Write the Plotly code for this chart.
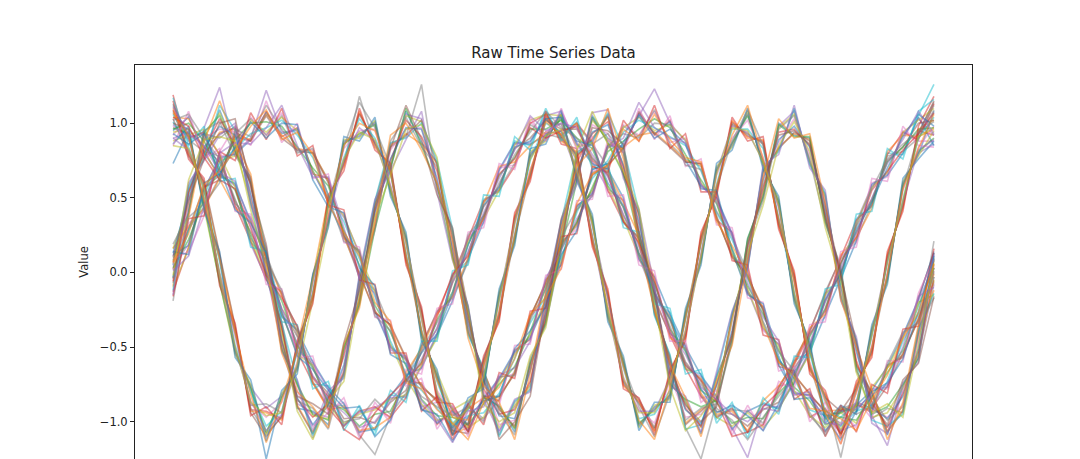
import plotly.graph_objects as go

# values, one list per line, 50 samples each
sin_fast = [
    [.05,.58,.79,1.09,.82,.61,-.03,-.36,-.91,-.93,-1.02,-.52,-.20,.46,.71,1.08,.87,.74,.11,-.26,-.83,-.90,-1.07,-.61,-.33,.32,.62,1.05,.90,.83,.23,-.11,-.74,-.86,-1.08,-.70,-.45,.22,.52,1.00,.92,.90,.35,.02,-.63,-.81,-1.09,-.76,-.57,.09],
    [-.19,.41,.93,.90,.98,.47,.14,-.51,-.74,-1.11,-.83,-.69,-.04,.30,.86,.91,1.26,.56,.28,-.41,-.65,-1.09,-.87,-.78,-.16,.17,.79,.87,1.06,.65,.40,-.28,-.56,-1.04,-1.25,-.87,-.28,.04,.69,.82,1.09,.73,.52,-.16,-.46,-.98,-.91,-.94,-.40,.21],
    [.11,.43,.97,1.24,.80,.63,.00,-.49,-.88,-.94,-.97,-.53,-.21,.44,.70,1.06,1.03,.58,.27,-.24,-.81,-1.06,-.90,-.75,-.19,.33,.64,1.03,.88,.81,.25,-.12,-.71,-.88,-1.03,-.69,-.44,.21,.51,.98,1.08,.75,.50,-.15,-.48,-.96,-1.16,-.78,-.56,-.08],
    [-.09,.54,.78,.94,.96,.49,.13,-.37,-.89,-1.07,-.85,-.67,-.06,.31,.85,.93,.86,.73,.12,-.39,-.67,-.91,-1.04,-.62,-.32,.18,.77,.90,1.04,.67,.38,-.26,-.58,-1.01,-.92,-.85,-.30,.05,.67,.84,.93,.89,.36,.00,-.61,-.82,-1.06,-.92,-.42,-.12],
    [.16,.45,.91,1.07,.83,.48,.12,-.50,-.76,-.96,-.98,-.51,-.19,.45,.72,1.05,1.01,.57,.26,-.25,-.82,-1.04,-.89,-.76,-.18,.31,.63,1.02,.89,.82,.24,-.13,-.72,-.87,-1.04,-.71,-.43,.20,.53,.97,1.06,.74,.51,-.14,-.49,-.97,-.94,-.77,-.55,-.05],
    [-.04,.55,.80,.93,.97,.62,-.02,-.35,-.90,-1.08,-.84,-.68,-.05,.47,.84,.92,1.02,.72,.13,-.40,-.66,-.92,-1.03,-.63,-.31,.19,.78,.89,1.05,.66,.39,-.27,-.57,-1.02,-.93,-.84,-.29,.06,.68,.83,.94,.88,.37,-.01,-.62,-.80,-1.07,-.93,-.41,.03],
    [.08,.40,.94,1.05,.81,.60,.15,-.52,-.75,-.95,-.99,-.50,-.22,.29,.69,1.10,.85,.59,.10,-.23,-.84,-.89,-1.05,-.60,-.34,.16,.61,1.04,.87,.66,.22,-.10,-.75,-.85,-.90,-.86,-.46,.23,.50,.99,.91,.91,.34,.01,-.64,-.95,-.90,-.75,-.58,.10],
    [-.12,.56,.77,1.12,.95,.46,-.01,-.34,-.73,-1.09,-.82,-.70,-.03,.48,.87,.90,1.00,.75,.29,-.42,-.64,-1.10,-.86,-.79,-.15,.34,.80,.88,1.07,.84,.41,-.29,-.55,-1.05,-1.02,-.69,-.27,.03,.70,.81,1.10,.72,.53,-.17,-.45,-.99,-1.03,-.95,-.39,-.14],
    [.02,.47,.90,.96,.94,.51,.02,-.47,-.79,-1.03,-.94,-.64,-.09,.34,.82,.96,.97,.61,.15,-.35,-.70,-1.02,-.99,-.65,-.22,.29,.66,.99,.93,.70,.35,-.15,-.69,-.97,-.95,-.82,-.33,.09,.64,.87,1.03,.79,.47,-.11,-.51,-.92,-.97,-.89,-.45,.04],
    [-.06,.53,.82,1.03,.85,.59,.09,-.39,-.85,-.97,-.88,-.56,-.17,.41,.75,1.02,.91,.68,.22,-.29,-.78,-.95,-.92,-.73,-.28,.22,.74,.93,1.01,.71,.27,-.23,-.61,-.91,-1.03,-.75,-.41,.16,.56,.94,.96,.85,.39,-.03,-.59,-.86,-1.04,-.81,-.53,-.03],
    [.13,.50,.84,.98,.92,.53,.10,-.45,-.84,-1.02,-.89,-.62,-.11,.40,.76,.97,.96,.63,.17,-.34,-.72,-.96,-.98,-.66,-.27,.27,.68,.94,.99,.72,.33,-.17,-.67,-.92,-1.01,-.76,-.39,.11,.62,.89,.98,.84,.41,-.09,-.53,-.91,-.98,-.83,-.51,.13],
    [.19,.39,.95,1.01,.78,.64,-.04,-.33,-.86,-.91,-1.05,-.66,-.07,.28,.88,1.04,.84,.71,.24,-.37,-.69,-.94,-1.09,-.58,-.35,.14,.81,.86,.93,.80,.21,-.24,-.59,-.99,-.91,-.88,-.47,.19,.48,.96,1.05,.76,.33,.04,-.66,-.84,-.99,-.90,-.37,-.17],
    [-.15,.60,.75,.92,1.00,.45,.17,-.53,-.72,-1.06,-.79,-.71,-.01,.49,.68,.89,1.08,.54,.08,-.22,-.85,-1.07,-.85,-.80,-.14,.35,.59,1.07,1.09,.63,.42,-.09,-.76,-.83,-1.07,-.67,-.26,.02,.72,.79,1.12,.70,.55,-.19,-.43,-1.01,-1.08,-.74,-.60,.12],
    [.07,.37,.88,1.15,.87,.66,.07,-.54,-.80,-.90,-1.04,-.48,-.24,.33,.92,1.00,.82,.60,.20,-.44,-.76,-.87,-1.12,-.68,-.13,.29,.71,.83,1.10,.76,.19,-.25,-.62,-.84,-1.10,-.73,-.49,.08,.63,1.03,.90,.93,.46,-.18,-.50,-.78,-1.12,-.87,-.35,-.01],
    [-.02,.62,.89,.91,.88,.42,.04,-.41,-.93,-1.12,-.86,-.73,-.15,.37,.65,.96,.99,.77,.09,-.27,-.88,-1.00,-.94,-.56,-.37,.23,.82,1.08,.86,.68,.43,-.20,-.77,-1.06,-.96,-.81,-.32,.13,.45,.85,1.01,.81,.30,-.06,-.67,-.94,-.88,-.97,-.48,.06],
    [.10,.48,.76,1.00,1.03,.57,.19,-.46,-.83,-.88,-.95,-.47,-.12,.43,.83,1.12,.89,.52,.30,-.31,-.71,-1.12,-1.00,-.83,-.23,.36,.65,.97,.95,.86,.28,-.14,-.64,-.89,-1.00,-.90,-.42,.18,.58,.92,.95,.86,.44,-.02,-.47,-.88,-1.02,-.72,-.61,-.16],
]
cos_fast = [
    [1.19,.79,.60,-.05,-.38,-.92,-.93,-.98,-.50,-.18,.49,.72,1.07,.86,.70,.08,-.27,-.84,-.91,-1.03,-.60,-.30,.37,.64,1.05,.89,.80,.20,-.14,-.75,-.87,-1.06,-.68,-.43,.24,.54,1.01,.91,.88,.32,-.02,-.65,-.82,-1.08,-.76,-.54,.11,.44,.95,.92],
    [.73,.95,.44,.11,-.54,-.76,-1.25,-.82,-.65,-.02,.33,.88,.91,1.01,.54,.24,-.43,-.68,-1.06,-.87,-.75,-.14,.21,.80,.89,1.05,.64,.36,-.30,-.59,-1.03,-.90,-.84,-.27,.08,.70,.85,1.07,.72,.48,-.18,-.49,-.98,-.92,-.92,-.38,-.05,.60,.79,1.08],
    [1.08,.81,.58,-.04,-.39,-.91,-1.08,-.97,-.51,-.17,.48,.73,1.18,.85,.69,.09,-.28,-.83,-.90,-1.02,-.59,-.29,.36,.65,1.04,.90,.79,.21,-.15,-.74,-.88,-1.05,-.69,-.42,.23,.55,1.00,.92,.87,.33,-.03,-.64,-.83,-1.24,-.77,-.53,.10,.45,.94,1.14],
    [.90,.94,.45,.10,-.53,-.77,-.91,-.83,-.64,-.03,.34,.87,.92,1.00,.55,.23,-.42,-.69,-1.05,-.88,-.74,-.15,.22,.79,.90,1.04,.65,.35,-.29,-.60,-1.02,-.91,-.83,-.28,.09,.69,.86,1.06,.73,.47,-.17,-.50,-.97,-.93,-.91,-.39,-.04,.59,.80,.86],
    [1.10,.80,.59,.10,-.37,-.93,-.94,-.99,-.49,-.03,.50,.71,1.08,.84,.71,.07,-.26,-.85,-1.08,-1.04,-.61,-.31,.38,.63,1.06,.88,.81,.19,-.13,-.76,-.86,-1.07,-.67,-.44,.25,.53,1.02,.90,.89,.31,-.01,-.66,-.81,-1.09,-.75,-.55,.12,.43,.96,1.02],
    [.94,.96,.43,-.06,-.55,-.75,-1.09,-.81,-.66,-.19,.32,.89,.90,1.02,.53,.25,-.44,-.67,-.92,-.86,-.76,-.13,.20,.81,.88,1.06,.63,.37,-.31,-.58,-1.04,-.89,-.85,-.26,.07,.71,.84,1.08,.71,.49,-.19,-.48,-.99,-.91,-.93,-.37,-.06,.61,.78,.95],
    [1.03,.78,.61,.12,-.36,-.94,-1.10,-.96,-.48,-.16,.47,.74,1.06,.87,.68,.10,-.25,-.82,-1.09,-1.01,-.58,-.28,.35,.66,1.03,.91,.78,.22,-.16,-.73,-.85,-1.04,-.70,-.41,.22,.56,.99,.93,.86,.34,-.04,-.63,-.84,-.93,-.78,-.52,.09,.46,.93,1.15],
    [.97,.93,.46,-.07,-.52,-.78,-1.07,-.84,-.63,-.04,.35,.86,.93,.99,.56,.22,-.41,-.70,-1.04,-.89,-.73,-.16,.23,.78,.91,1.03,.66,.34,-.28,-.61,-1.01,-.92,-.82,-.29,.10,.68,.87,1.05,.74,.46,-.16,-.51,-.96,-.94,-.90,-.40,-.03,.58,.81,.90],
    [1.01,.84,.55,.07,-.49,-.80,-1.03,-.93,-.53,-.13,.44,.77,1.03,.90,.66,.13,-.38,-.73,-1.01,-.92,-.71,-.19,.26,.75,1.00,.94,.75,.25,-.25,-.64,-.98,-.95,-.79,-.32,.19,.59,.96,.96,.83,.37,-.13,-.54,-.93,-.97,-.87,-.43,.06,.49,.90,1.04],
    [.98,.90,.49,-.01,-.43,-.88,-.97,-.87,-.60,-.07,.38,.83,.95,.96,.59,.19,-.32,-.79,-.95,-.98,-.64,-.25,.32,.69,.94,1.00,.69,.31,-.19,-.70,-.92,-1.01,-.73,-.38,.13,.65,.90,1.02,.77,.43,-.07,-.60,-.87,-1.03,-.81,-.49,.00,.55,.84,.98],
    [1.15,.76,.63,-.09,-.34,-.96,-.90,-1.02,-.46,-.21,.52,.68,1.10,.82,.73,.05,-.23,-.87,-.88,-1.07,-.56,-.33,.40,.61,1.08,.86,.83,.17,-.11,-.78,-.84,-1.09,-.65,-.46,.27,.51,1.04,.88,.91,.29,.01,-.68,-.79,-1.11,-.73,-.57,.14,.41,.98,1.18],
    [.86,.98,.41,.14,-.57,-.72,-1.13,-.79,-.68,-.01,.30,.91,.88,1.04,.51,.27,-.46,-.65,-1.09,-.84,-.78,-.11,.18,.83,.86,1.09,.61,.39,-.33,-.56,-1.06,-.87,-.87,-.24,.05,.73,.82,1.10,.69,.51,-.21,-.46,-1.01,-.89,-.95,-.35,-.08,.63,.76,.88],
    [1.12,.91,.47,.00,-.41,-.89,-.88,-.94,-.49,-.14,.46,.84,1.14,.97,.71,.11,-.40,-.71,-.93,-1.02,-.62,-.28,.24,.66,1.02,.99,.77,.32,-.17,-.62,-.90,-1.10,-.81,-.30,.21,.57,.88,1.09,.85,.35,-.05,-.62,-.95,-1.01,-.79,-.51,-.02,.57,.92,1.12],
    [.90,.82,.57,-.03,-.51,-.86,-1.06,-.95,-.62,-.06,.37,.75,.97,.88,.58,.21,-.30,-.81,-1.03,-.90,-.69,-.17,.34,.77,.93,.95,.67,.24,-.27,-.72,-.93,-.93,-.71,-.40,.12,.67,.98,.94,.75,.44,-.15,-.52,-.85,-1.06,-.88,-.41,.08,.47,.82,.89],
    [1.07,.92,.48,.09,-.40,-.82,-1.14,-.86,-.52,-.15,.40,.85,1.00,.95,.67,.12,-.39,-.72,-.97,-.99,-.63,-.26,.25,.68,1.01,.92,.76,.23,-.23,-.63,-.99,-1.12,-.77,-.31,.20,.58,.92,1.12,.76,.36,-.06,-.61,-.94,-1.15,-.80,-.50,-.01,.56,.83,1.06],
    [.85,.83,.56,-.02,-.50,-.87,-.96,-.94,-.61,-.05,.45,.76,.94,.89,.57,.20,-.31,-.80,-1.02,-.91,-.70,-.18,.33,.76,.92,.96,.68,.33,-.26,-.71,-.94,-.94,-.72,-.39,.11,.66,.97,.95,.74,.45,-.14,-.53,-.86,-1.05,-.89,-.42,.07,.48,.91,.97],
]
sin_slow = [
    [.07,.33,.41,.78,.79,1.04,.92,1.07,.82,.82,.48,.39,-.02,-.11,-.51,-.57,-.90,-.87,-1.08,-.92,-.99,-.70,-.68,-.29,-.21,.21,.29,.68,.70,.99,.92,1.08,.87,.90,.57,.51,.11,.02,-.39,-.48,-.82,-.82,-1.07,-.92,-1.04,-.79,-.78,-.41,-.33,-.07],
    [-.13,.17,.57,.62,.94,.88,1.08,.91,.97,.66,.63,.23,.14,-.27,-.35,-.73,-.74,-1.02,-.92,-1.07,-.83,-.86,-.52,-.45,-.05,.05,.45,.52,.86,.83,1.07,.92,1.02,.74,.73,.35,.27,-.14,-.23,-.63,-.66,-.97,-.91,-1.08,-.88,-.94,-.62,-.57,-.17,.13],
    [.12,.18,.55,.77,.79,.89,1.07,.93,.96,.68,.47,.24,.13,-.26,-.50,-.58,-.91,-1.01,-.93,-1.06,-.84,-.71,-.53,-.44,-.20,.06,.44,.53,.85,.84,1.06,.93,1.01,.75,.58,.50,.26,-.13,-.24,-.62,-.81,-.82,-1.06,-.93,-.89,-.79,-.63,-.42,-.18,.14],
    [-.07,.29,.44,.64,.93,1.03,.92,1.05,.81,.80,.62,.25,-.03,-.12,-.37,-.72,-.75,-.87,-1.09,-.90,-.98,-.85,-.66,-.31,-.06,.20,.31,.67,.70,.98,.91,1.09,.86,.76,.71,.36,.12,-.04,-.25,-.61,-.67,-.96,-1.07,-.91,-.88,-.93,-.63,-.56,-.30,-.06],
    [.04,.19,.56,.76,.80,.90,1.22,.94,.95,.67,.49,.37,.13,-.25,-.49,-.59,-.89,-1.00,-.94,-1.05,-.85,-.72,-.54,-.43,-.19,.07,.43,.54,.84,.85,1.05,1.23,1.00,.88,.59,.49,.25,-.12,-.38,-.48,-.80,-.83,-.92,-1.06,-1.02,-.78,-.77,-.43,-.19,.05],
    [.16,.31,.43,.63,.92,.89,1.06,.92,.83,.81,.61,.24,-.01,-.26,-.36,-.58,-.76,-.86,-1.07,-.91,-.84,-.84,-.67,-.30,-.07,.19,.32,.66,.71,.84,.92,.94,.85,.75,.72,.37,.11,-.03,-.24,-.60,-.68,-.82,-.93,-.92,-.89,-.92,-.64,-.55,-.31,.08],
    [-.10,.16,.54,.75,.78,1.02,.94,1.04,.95,.68,.50,.38,.12,-.13,-.48,-.71,-.88,-.99,-.95,-1.04,-.97,-.73,-.55,-.42,-.18,.08,.42,.55,.83,.97,1.04,.95,.99,.89,.60,.48,.13,-.11,-.37,-.49,-.79,-.96,-1.04,-.94,-1.01,-.77,-.64,-.44,-.20,-.15],
    [.02,.30,.57,.65,.91,.88,1.05,.90,.82,.80,.60,.26,.00,-.27,-.35,-.57,-.77,-.85,-1.06,-1.08,-.83,-.83,-.68,-.29,-.08,.18,.33,.65,.72,.83,1.08,.93,.84,.74,.73,.38,.10,-.02,-.26,-.59,-.69,-.81,-.94,-1.08,-.87,-.91,-.76,-.54,-.32,.01],
    [.03,.22,.49,.70,.89,1.00,1.01,.98,.84,.70,.58,.28,.05,-.22,-.40,-.62,-.85,-.96,-.97,-1.02,-.88,-.75,-.63,-.40,-.10,.16,.34,.57,.81,.88,.96,1.03,.97,.79,.62,.46,.16,-.09,-.28,-.52,-.77,-.86,-1.02,-.97,-.99,-.83,-.67,-.52,-.22,.03],
    [-.03,.28,.52,.73,.83,.93,.97,1.02,.92,.77,.52,.34,.09,-.16,-.46,-.68,-.79,-.91,-1.03,-.96,-.94,-.81,-.57,-.34,-.16,.10,.40,.63,.75,.94,1.02,.97,.91,.85,.68,.40,.22,-.03,-.34,-.58,-.71,-.92,-.96,-1.03,-.93,-.89,-.73,-.46,-.28,-.03],
    [.09,.14,.38,.81,.98,.85,1.15,.87,1.00,.63,.66,.20,.17,-.30,-.32,-.76,-.71,-1.05,-.89,-1.10,-.80,-.89,-.49,-.48,-.02,.02,.48,.49,.89,.80,1.10,.89,1.05,.71,.76,.32,.30,-.17,-.20,-.66,-.63,-1.00,-.87,-1.15,-.85,-.98,-.59,-.60,-.14,.09],
    [-.16,.36,.38,.81,.75,1.07,.89,1.10,.78,.85,.45,.42,-.05,-.08,-.54,-.54,-.93,-.83,-1.12,-.88,-1.02,-.67,-.71,-.26,-.24,.24,.26,.71,.67,1.02,.88,1.12,.83,.93,.54,.54,.08,.05,-.42,-.45,-.85,-.78,-1.10,-.89,-1.07,-.75,-.81,-.38,-.36,.16],
    [.14,.12,.60,.66,.84,1.01,.90,1.00,.99,.62,.44,.40,.03,-.09,-.55,-.61,-.92,-.95,-1.13,-.97,-.86,-.83,-.51,-.39,-.23,.12,.28,.69,.73,.87,1.05,.90,.96,.86,.56,.55,.15,-.15,-.21,-.56,-.85,-.84,-.97,-1.12,-.93,-.80,-.74,-.58,-.26,.11],
    [-.04,.37,.46,.60,.96,.91,1.12,.96,.80,.83,.51,.21,.15,-.29,-.39,-.69,-.83,-.90,-.96,-.90,-1.00,-.70,-.69,-.32,-.11,.24,.42,.51,.85,.93,.90,1.00,.99,.72,.69,.41,.24,.00,-.33,-.53,-.66,-.94,-1.09,-.90,-.95,-.90,-.61,-.40,-.34,.00],
    [.01,.11,.44,.80,.87,.86,.97,1.12,.85,.64,.64,.30,-.04,-.14,-.52,-.56,-.86,-.98,-1.14,-.93,-.90,-.69,-.64,-.46,-.04,.15,.36,.52,.84,.90,1.14,.97,.90,.87,.59,.47,.26,-.07,-.30,-.46,-.82,-.80,-1.01,-1.02,-.91,-.82,-.75,-.50,-.16,-.10],
    [.06,.26,.59,.68,.82,.98,1.09,.89,.94,.79,.46,.27,.11,-.20,-.33,-.74,-.78,-.92,-1.01,-1.12,-.87,-.77,-.58,-.28,-.17,.03,.46,.66,.72,.96,.88,1.06,.89,.77,.74,.34,.18,-.01,-.35,-.60,-.70,-.91,-.93,-.98,-1.06,-.85,-.69,-.44,-.27,.06],
]
cos_slow = [
    [1.06,.88,.95,.64,.60,.20,.11,-.30,-.38,-.75,-.76,-1.03,-.92,-1.06,-.82,-.84,-.49,-.43,-.02,.08,.49,.54,.88,.85,1.07,.91,1.01,.72,.70,.33,.24,-.18,-.27,-.65,-.68,-.98,-.90,-1.08,-.87,-.92,-.59,-.54,-.14,-.05,.36,.44,.80,.79,1.05,1.26],
    [.92,1.05,.79,.80,.44,.36,-.05,-.14,-.54,-.59,-.92,-.87,-1.08,-.90,-.98,-.68,-.65,-.27,-.18,.24,.33,.70,.72,1.01,.91,1.07,.85,.88,.54,.49,.08,-.02,-.43,-.49,-.84,-.82,-1.06,-.92,-1.03,-.76,-.75,-.38,-.30,.11,.20,.60,.64,.95,.88,.88],
    [1.09,.90,.94,.79,.45,.21,-.05,-.13,-.53,-.74,-.91,-1.03,-.93,-.90,-.97,-.84,-.48,-.27,-.03,.23,.48,.55,.71,1.00,1.06,.92,1.00,.87,.55,.34,.23,-.17,-.42,-.64,-.83,-.97,-.91,-1.07,-1.02,-.77,-.60,-.39,-.15,.10,.35,.45,.79,.94,.89,1.13],
    [.95,1.04,.80,.65,.59,.35,.10,-.29,-.39,-.60,-.77,-.88,-1.07,-1.05,-.83,-.69,-.64,-.42,-.19,.09,.34,.69,.87,.86,.92,1.06,.86,.73,.69,.50,.09,-.03,-.28,-.50,-.69,-.83,-1.05,-.93,-.88,-.91,-.74,-.53,-.29,-.04,.21,.59,.65,.80,1.04,.85],
    [1.13,.89,.81,.78,.46,.37,.12,-.15,-.37,-.73,-.90,-.89,-1.09,-1.22,-.96,-.70,-.50,-.26,-.17,.07,.47,.56,.73,.99,.93,.90,.99,.86,.71,.35,.22,-.19,-.41,-.48,-.82,-.96,-.92,-.93,-1.01,-.78,-.58,-.40,-.13,.09,.22,.46,.78,.81,.90,1.09],
    [.99,.91,.93,.66,.58,.19,-.04,-.28,-.52,-.61,-.78,-1.02,-.94,-.91,-.84,-.83,-.63,-.41,-.04,.22,.35,.68,.86,.87,1.05,1.08,.87,.74,.56,.48,.10,-.16,-.29,-.63,-.70,-.84,-1.04,-1.24,-.89,-.90,-.73,-.52,-.16,-.03,.34,.58,.66,.93,1.03,.92],
    [1.04,1.03,.82,.63,.43,.34,.09,-.16,-.40,-.74,-.92,-.90,-1.06,-1.04,-.97,-.67,-.51,-.28,-.16,.10,.46,.71,.74,.85,.94,.93,1.00,.71,.68,.47,.25,-.04,-.44,-.51,-.81,-.95,-.93,-1.06,-.86,-.76,-.61,-.37,-.28,.12,.23,.43,.81,.92,.91,.96],
    [.88,.92,.96,.79,.57,.22,-.03,-.27,-.55,-.62,-.89,-1.01,-.95,-.92,-.85,-.82,-.62,-.44,-.05,.21,.36,.55,.85,1.02,1.06,1.05,.84,.87,.57,.36,.11,-.15,-.30,-.64,-.71,-.97,-1.03,-.94,-1.04,-.92,-.72,-.55,-.15,-.02,.33,.57,.67,.94,1.02,1.10],
    [1.00,.96,.84,.74,.48,.27,.06,-.24,-.43,-.70,-.81,-.98,-.97,-1.01,-.87,-.79,-.53,-.38,-.07,.13,.44,.58,.83,.90,1.02,.96,.96,.77,.65,.38,.19,-.13,-.32,-.60,-.73,-.93,-.95,-1.03,-.92,-.87,-.64,-.49,-.19,.00,.31,.49,.75,.84,1.00,1.02],
    [.96,1.00,.88,.68,.55,.25,.00,-.19,-.49,-.64,-.87,-.92,-1.03,-.95,-.93,-.73,-.60,-.32,-.13,.19,.38,.65,.77,.96,.96,1.02,.90,.83,.58,.44,.13,-.07,-.38,-.53,-.79,-.87,-1.01,-.97,-.98,-.81,-.70,-.43,-.24,.06,.27,.48,.74,.84,.96,.97],
    [1.17,.85,.98,.61,.63,.17,.14,-.33,-.35,-.78,-.73,-1.06,-.89,-1.09,-.79,-.87,-.46,-.46,.01,.05,.52,.51,.91,.82,1.10,.88,1.04,.69,.73,.30,.27,-.21,-.24,-.68,-.65,-1.01,-.87,-1.11,-.84,-.95,-.56,-.57,-.11,-.08,.39,.41,.83,.76,1.08,1.16],
    [.85,1.08,.76,.83,.41,.39,-.08,-.11,-.57,-.56,-.95,-.84,-1.11,-.87,-1.01,-.65,-.68,-.24,-.21,.27,.30,.73,.69,1.04,.88,1.10,.82,.91,.51,.52,.05,.01,-.46,-.46,-.87,-.79,-1.09,-.89,-1.06,-.73,-.78,-.35,-.33,.14,.17,.63,.61,.98,.85,.84],
    [1.04,.98,.77,.62,.56,.30,-.02,-.17,-.36,-.71,-.83,-1.05,-1.12,-.94,-.82,-.72,-.61,-.30,-.01,.11,.37,.66,.76,.97,.90,.95,.98,.75,.66,.34,.20,-.06,-.39,-.62,-.72,-.86,-1.10,-1.07,-.90,-.80,-.62,-.41,-.26,.07,.24,.55,.68,.82,.93,1.07],
    [.93,.86,.93,.70,.42,.33,.13,-.26,-.56,-.65,-.79,-.91,-.90,-1.10,-.99,-.71,-.54,-.41,-.14,.18,.45,.57,.84,.88,1.03,1.04,.88,.85,.60,.45,.12,-.14,-.31,-.52,-.78,-.94,-.89,-.96,-1.06,-.88,-.67,-.51,-.18,-.01,.29,.47,.70,.91,1.06,.98],
    [1.02,1.06,.90,.76,.49,.23,.08,-.12,-.42,-.63,-.88,-1.00,-.98,-.85,-.95,-.81,-.52,-.33,-.15,.25,.38,.60,.79,.94,1.08,.97,.90,.76,.67,.43,.13,-.08,-.36,-.61,-.75,-.91,-.99,-1.12,-.97,-.83,-.71,-.42,-.25,.05,.32,.56,.76,.86,.94,1.01],
    [1.11,.93,.85,.67,.61,.32,.01,-.25,-.47,-.69,-.85,-.94,-1.04,-1.00,-.86,-.74,-.58,-.37,-.06,.14,.40,.63,.82,1.05,.95,1.00,.97,.79,.64,.39,.17,-.12,-.40,-.55,-.77,-.85,-.95,-1.00,-.91,-.93,-.66,-.47,-.20,.03,.26,.50,.73,.89,1.08,.93],
]
families = [sin_fast, cos_fast, sin_slow, cos_slow]

tick_vals = [-1.0, -0.5, 0.0, 0.5, 1.0]
tick_text = ["\u22121.0", "\u22120.5", "0.0", "0.5", "1.0"]
colors = ["#1f77b4", "#ff7f0e", "#2ca02c", "#d62728", "#9467bd",
          "#8c564b", "#e377c2", "#7f7f7f", "#bcbd22", "#17becf"]

fig = go.Figure()
for k in range(len(sin_fast)):
    for f, fam in enumerate(families):
        y = fam[k]
        fig.add_trace(go.Scatter(x=list(range(len(y))), y=y, mode="lines",
                                 line=dict(color=colors[(7 * k + 3 * f) % 10], width=1.6),
                                 opacity=0.5, showlegend=False))

fig.update_layout(
    width=1080, height=459,
    margin=dict(l=135, r=108, t=65, b=0),
    paper_bgcolor="white", plot_bgcolor="white",
    font=dict(family="DejaVu Sans", color="#222222", size=11.5),
    title=dict(text="Raw Time Series Data", font=dict(size=15, color="#222222"),
               x=0.5, xref="paper", xanchor="center",
               y=1, yref="paper", yanchor="bottom", pad=dict(b=7)),
)
# the picture is cut off below the plot, so there is no bottom axis to show
fig.update_xaxes(range=[-2.45, 51.45], side="top", showgrid=False, zeroline=False,
                 showticklabels=False, ticks="", showline=True, linecolor="#222222", linewidth=1)
fig.update_yaxes(range=[-1.25, 1.39], showgrid=False, zeroline=False,
                 tickvals=tick_vals, ticktext=tick_text, ticks="outside", ticklen=4,
                 tickcolor="#222222", showline=True, linecolor="#222222", linewidth=1, mirror=True,
                 title=dict(text="Value", standoff=8, font=dict(size=11.5)))

fig.write_html("out.html", config={"displayModeBar": False},
               post_script="document.body.style.margin='0';document.body.style.overflow='hidden';")
